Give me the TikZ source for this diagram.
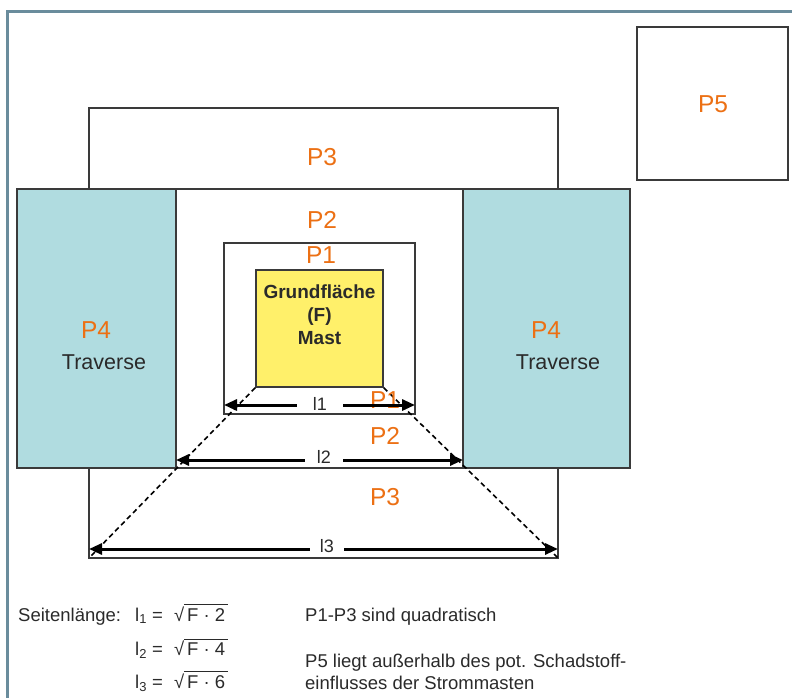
\documentclass[tikz,border=0pt]{standalone}
\usepackage{fontspec}
\setmainfont{Liberation Sans}
\usetikzlibrary{arrows.meta,calc}
\definecolor{frameblue}{HTML}{6A8C9C}
\definecolor{trav}{HTML}{B0DCE0}
\definecolor{mastyellow}{HTML}{FFF06A}
\definecolor{porange}{HTML}{EC7014}
\definecolor{txt}{HTML}{2A2A2A}
\definecolor{edge}{HTML}{3A3A3A}
\tikzset{
  box/.style={draw=edge, line width=1.5pt},
  plabel/.style={text=porange, font=\fontsize{24.5}{28}\selectfont, inner sep=0pt},
  travlabel/.style={text=txt, font=\fontsize{21.5}{24}\selectfont, inner sep=0pt},
  dimlabel/.style={text=txt, font=\fontsize{18}{20}\selectfont, inner ysep=0pt},
  dimarrow/.style={line width=3pt, -{Triangle[length=13pt,width=11pt]}},
  dashline/.style={line width=1.6pt, dash pattern=on 5pt off 3.5pt},
  bt/.style={text=txt, font=\fontsize{18.5}{21}\selectfont, inner sep=0pt, anchor=base west},
}
\begin{document}
\begin{tikzpicture}[x=1pt,y=-1pt]
\useasboundingbox (0,0) rectangle (792,698);
% frame
\draw[frameblue, line width=3pt] (7.5,698) -- (7.5,12) -- (792,12);
% corners
\coordinate (p3nw) at (89,108);   \coordinate (p3se) at (558,558);
\coordinate (p2nw) at (176,189);  \coordinate (p2se) at (463,468);
\coordinate (p1nw) at (224,243);  \coordinate (p1se) at (415,414);
\coordinate (tlnw) at (17,189);   \coordinate (tlse) at (176,468);
\coordinate (trnw) at (463,189);  \coordinate (trse) at (630,468);
\coordinate (p5nw) at (637,27);   \coordinate (p5se) at (788,180);
\coordinate (p3sw) at (89,558);   \coordinate (p3sec) at (558,558);
% rectangles
\draw[box, fill=white] (p3nw) rectangle (p3se);
\draw[box] (p2nw) rectangle (p2se);
\draw[box, fill=trav] (tlnw) rectangle (tlse);
\draw[box, fill=trav] (trnw) rectangle (trse);
\draw[box] (p1nw) rectangle (p1se);
\draw[box] (p5nw) rectangle (p5se);
\node[box, fill=mastyellow, minimum width=127pt, minimum height=117pt, inner sep=0pt] (mast) at (319.5,328.5) {};
\node[text=txt, font=\fontsize{19}{23}\selectfont\bfseries, align=center] (masttext) at (319.5,315) {Grundfläche\\(F)\\Mast};
% dashed lines
\draw[dashline] (mast.south west) -- (p3sw);
\draw[dashline] (mast.south east) -- (p3sec);
% labels
\node[plabel] (lp5) at (713,104) {P5};
\node[plabel] (lp3a) at (322,157) {P3};
\node[plabel] (lp2a) at (322,220) {P2};
\node[plabel] (lp1a) at (321,255) {P1};
\node[plabel] (lp1b) at (385,400) {P1};
\node[plabel] (lp2b) at (385,436) {P2};
\node[plabel] (lp3b) at (385,497) {P3};
\node[plabel] (lp4a) at (96,330) {P4};
\node[travlabel] (tra) at (104,362) {Traverse};
\node[plabel] (lp4b) at (546,330) {P4};
\node[travlabel] (trb) at (558,362) {Traverse};
% dimensions
\coordinate (l1a) at (224,405); \coordinate (l1b) at (415,405);
\coordinate (l2a) at (176,460); \coordinate (l2b) at (463,460);
\coordinate (l3a) at (89,549);  \coordinate (l3b) at (558,549);
\node[dimlabel, inner xsep=16pt] (l1lab) at (320,404) {l1};
\node[dimlabel, inner xsep=12pt] (l2lab) at (324,457) {l2};
\node[dimlabel, inner xsep=10pt] (l3lab) at (327,546) {l3};
\draw[dimarrow] (l1lab.west |- l1a) -- (l1a);
\draw[dimarrow] (l1lab.east |- l1a) -- (l1b);
\draw[dimarrow] (l2lab.west |- l2a) -- (l2a);
\draw[dimarrow] (l2lab.east |- l2a) -- (l2b);
\draw[dimarrow] (l3lab.west |- l3a) -- (l3a);
\draw[dimarrow] (l3lab.east |- l3a) -- (l3b);
% bottom text
\node[bt] (seit) at (18,621) {Seitenlänge:};
\node[bt] (eq1) at (135,621) {l\textsubscript{1} =};
\node[bt] (eq2) at (135,655) {l\textsubscript{2} =};
\node[bt] (eq3) at (135,688) {l\textsubscript{3} =};
\node[bt] (sq1) at (174,621) {√};
\node[bt] (sq2) at (174,655) {√};
\node[bt] (sq3) at (174,688) {√};
\node[bt] (f1) at (187,621) {F · 2};
\node[bt] (f2) at (187,655) {F · 4};
\node[bt] (f3) at (187,688) {F · 6};
\draw[txt, line width=0.9pt] ($(f1.north west)+(-3,-3)$) -- ($(f1.north east)+(3,-3)$);
\draw[txt, line width=0.9pt] ($(f2.north west)+(-3,-3)$) -- ($(f2.north east)+(3,-3)$);
\draw[txt, line width=0.9pt] ($(f3.north west)+(-3,-3)$) -- ($(f3.north east)+(3,-3)$);
\node[bt] (note1) at (305,621) {P1-P3 sind quadratisch};
\node[bt] (note2) at (305,667) {P5 liegt außerhalb des pot. Schadstoff-};
\node[bt] (note3) at (305,689) {einflusses der Strommasten};
\end{tikzpicture}
\end{document}
